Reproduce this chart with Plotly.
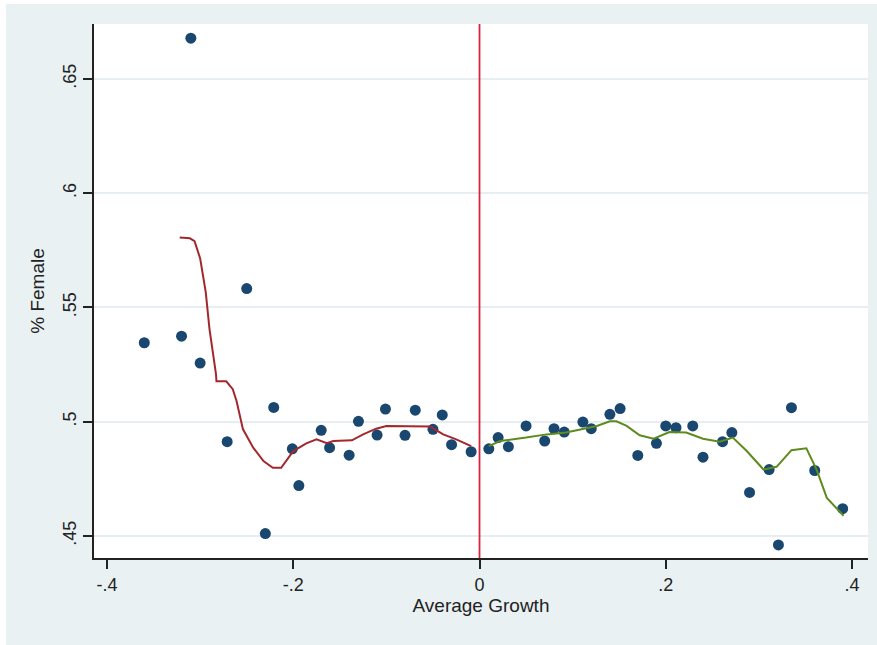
import plotly.graph_objects as go

# Scatter data (Average Growth, % Female)
growth = [-0.360, -0.320, -0.310, -0.300, -0.271, -0.250, -0.230, -0.221, -0.201, -0.194,
          -0.170, -0.161, -0.140, -0.130, -0.110, -0.101, -0.080, -0.069, -0.050, -0.040,
          -0.030, -0.009,
          0.010, 0.020, 0.031, 0.050, 0.070, 0.080, 0.091, 0.111, 0.120, 0.140, 0.151,
          0.170, 0.190, 0.200, 0.211, 0.229, 0.240, 0.261, 0.271, 0.290, 0.311, 0.321,
          0.335, 0.360, 0.390]
female = [0.5345, 0.5374, 0.6678, 0.5256, 0.4912, 0.5582, 0.4510, 0.5062, 0.4881, 0.4720,
          0.4962, 0.4886, 0.4853, 0.5001, 0.4941, 0.5055, 0.4940, 0.5050, 0.4966, 0.5029,
          0.4899, 0.4868,
          0.4881, 0.4930, 0.4890, 0.4981, 0.4915, 0.4969, 0.4954, 0.4998, 0.4969, 0.5032, 0.5057,
          0.4852, 0.4905, 0.4981, 0.4973, 0.4981, 0.4844, 0.4912, 0.4952, 0.4690, 0.4790, 0.4460,
          0.5061, 0.4786, 0.4619]

# Smoothed fit, negative growth side
fit_neg_x = [-0.322, -0.311, -0.306, -0.300, -0.294, -0.290, -0.283, -0.2825, -0.272, -0.265,
             -0.261, -0.254, -0.243, -0.232, -0.222, -0.213, -0.200, -0.186, -0.175, -0.164,
             -0.157, -0.137, -0.125, -0.111, -0.100, -0.068, -0.053, -0.039, -0.025, -0.009]
fit_neg_y = [0.5806, 0.5802, 0.5790, 0.5714, 0.5567, 0.5406, 0.5208, 0.5176, 0.5176, 0.5142,
             0.5091, 0.4966, 0.4886, 0.4827, 0.4798, 0.4798, 0.4871, 0.4905, 0.4922, 0.4905,
             0.4915, 0.4918, 0.4944, 0.4969, 0.4981, 0.4981, 0.4978, 0.4944, 0.4922, 0.4893]

# Smoothed fit, positive growth side
fit_pos_x = [0.010, 0.022, 0.050, 0.072, 0.093, 0.108, 0.126, 0.140, 0.147, 0.158,
             0.172, 0.187, 0.204, 0.222, 0.240, 0.258, 0.272, 0.287, 0.305, 0.319,
             0.335, 0.351, 0.362, 0.373, 0.391]
fit_pos_y = [0.4893, 0.4915, 0.4930, 0.4944, 0.4952, 0.4966, 0.4981, 0.5001, 0.5001, 0.4981,
             0.4940, 0.4925, 0.4954, 0.4952, 0.4925, 0.4912, 0.4930, 0.4871, 0.4790, 0.4802,
             0.4875, 0.4883, 0.4790, 0.4666, 0.4588]

cutoff = 0.0

x_ticks = [-0.4, -0.2, 0, 0.2, 0.4]
x_tick_labels = ["-.4", "-.2", "0", ".2", ".4"]
y_ticks = [0.45, 0.5, 0.55, 0.6, 0.65]
y_tick_labels = [".45", ".5", ".55", ".6", ".65"]

FONT = "Liberation Sans, Arial, sans-serif"
BG = "#E9F1F3"

fig = go.Figure()
fig.add_trace(go.Scatter(x=growth, y=female, mode="markers",
                         marker=dict(color="#1A476F", size=11, line=dict(width=0)),
                         showlegend=False))
fig.add_trace(go.Scatter(x=fit_neg_x, y=fit_neg_y, mode="lines",
                         line=dict(color="#A3282D", width=2), showlegend=False))
fig.add_trace(go.Scatter(x=fit_pos_x, y=fit_pos_y, mode="lines",
                         line=dict(color="#5E8B1E", width=2), showlegend=False))

fig.add_shape(type="line", xref="x", yref="paper", x0=cutoff, x1=cutoff, y0=0, y1=1,
              line=dict(color="#D8233F", width=1.8))

fig.update_layout(
    width=871, height=641,
    margin=dict(l=88, r=9, t=20, b=87),
    paper_bgcolor=BG, plot_bgcolor="white",
    font=dict(family=FONT, size=18, color="#222222"),
    xaxis=dict(range=[-0.414, 0.4172], tickvals=x_ticks, ticktext=x_tick_labels,
               showgrid=False, zeroline=False, showline=True, linecolor="#222222",
               linewidth=2, ticks="outside", ticklen=9, tickwidth=2, tickcolor="#222222",
               title=dict(text="Average Growth", font=dict(size=19), standoff=4)),
    yaxis=dict(range=[0.4403, 0.674], tickvals=y_ticks, ticktext=y_tick_labels,
               showgrid=True, gridcolor="#E6EEF2", gridwidth=1.5, zeroline=False,
               showline=True, linecolor="#222222", linewidth=2, ticks="outside",
               ticklen=9, tickwidth=2, tickcolor="#222222", tickangle=-90,
               title=dict(text="% Female", font=dict(size=19), standoff=10)),
)

fig.write_html("out.html", post_script="document.body.style.margin='4px 0 0 6px';")
